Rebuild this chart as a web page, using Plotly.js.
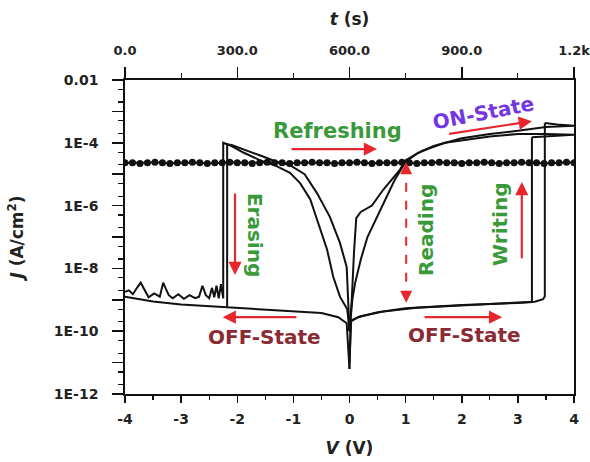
<!DOCTYPE html>
<html>
<head>
<meta charset="utf-8">
<script src="https://cdn.plot.ly/plotly-3.0.1.min.js"></script>
<style>html,body{margin:0;padding:0;background:#fff;}#chart{width:590px;height:462px;}</style>
</head>
<body>
<div id="chart"></div>
<script>
// ---- Data (V in volts, J in A/cm^2, t in s) ----
// Cycle 1: OFF sweep 0 -> +3.25 V, then set (jump to ON)
const offR1_V = [0, 0.02, 0.15, 0.5, 1.0, 2.0, 3.0, 3.25, 3.25];
const offR1_J = [6.3e-12, 2.0e-10, 2.8e-10, 4.0e-10, 5.4e-10, 6.8e-10, 7.9e-10, 8.5e-10, 1.5e-4];
// Cycle 2: OFF sweep 0 -> +3.48 V, then set
const offR2_V = [0, 0.03, 0.2, 0.6, 1.2, 2.2, 3.0, 3.3, 3.45, 3.48, 3.48];
const offR2_J = [1.0e-11, 2.2e-10, 3.0e-10, 4.2e-10, 5.6e-10, 7.0e-10, 8.1e-10, 8.7e-10, 1.05e-9, 1.3e-9, 4.3e-4];
// Cycle 1: ON state up to 4 V and back to 0
const onR1_V = [3.25, 3.5, 4.0, 3.5, 3.0, 2.5, 2.0, 1.7, 1.3, 1.0, 0.9, 0.6, 0.4, 0.2, 0.12, 0.08, 0.04, 0];
const onR1_J = [1.5e-4, 1.6e-4, 1.8e-4, 1.9e-4, 1.9e-4, 1.6e-4, 1.2e-4, 1.0e-4, 5.6e-5, 2.8e-5, 1.4e-5, 3.2e-6, 1.0e-6, 6.3e-7, 4.0e-7, 3.2e-8, 1.0e-9, 1.0e-10];
// Cycle 2: ON state up to 4 V and back to 0
const onR2_V = [3.48, 3.7, 4.0, 3.5, 3.0, 2.5, 2.0, 1.5, 1.2, 1.0, 0.8, 0.5, 0.32, 0.2, 0.1, 0.05, 0];
const onR2_J = [4.3e-4, 3.8e-4, 3.5e-4, 3.2e-4, 2.4e-4, 1.9e-4, 1.4e-4, 7.9e-5, 4.5e-5, 2.5e-5, 6.3e-6, 4.4e-7, 1.0e-7, 1.9e-8, 3.4e-9, 1.0e-9, 1.0e-10];
// Cycle 1: ON state 0 -> -2.25 V, then erase
const onL1_V = [0, -0.04, -0.17, -0.29, -0.4, -0.53, -0.7, -0.88, -1.06, -1.3, -1.6, -1.9, -2.1, -2.25, -2.25];
const onL1_J = [1.0e-10, 5.0e-10, 1.26e-9, 5.4e-9, 4.0e-8, 2.0e-7, 1.6e-6, 5.2e-6, 1.1e-5, 1.8e-5, 2.8e-5, 5.0e-5, 7.9e-5, 1.0e-4, 1.12e-9];
// Cycle 2: ON state 0 -> -2.18 V, then erase
const onL2_V = [0, -0.03, -0.05, -0.17, -0.35, -0.58, -0.8, -1.06, -1.3, -1.6, -1.9, -2.1, -2.18, -2.18];
const onL2_J = [1.0e-10, 2.0e-9, 1.1e-8, 6.5e-8, 4.4e-7, 2.5e-6, 1.0e-5, 1.95e-5, 2.5e-5, 4.0e-5, 6.3e-5, 8.5e-5, 8.9e-5, 6.0e-10];
// Noisy OFF trace after erase, -2.25 -> -4 V
const noise_V = [-2.25, -2.29, -2.33, -2.37, -2.41, -2.45, -2.5, -2.56, -2.62, -2.68, -2.75, -2.85, -2.95, -3.05, -3.15, -3.22, -3.28, -3.32, -3.38, -3.48, -3.58, -3.66, -3.72, -3.78, -3.86, -3.93, -4.0];
const noise_J = [1.12e-9, 3.16e-9, 1.12e-9, 2.8e-9, 1.2e-9, 2.4e-9, 1.12e-9, 1.4e-9, 2.8e-9, 1.26e-9, 1.12e-9, 1.4e-9, 1.07e-9, 1.5e-9, 1.12e-9, 1.4e-9, 2.4e-9, 3.5e-9, 1.26e-9, 1.6e-9, 1.2e-9, 2.2e-9, 3.5e-9, 2.5e-9, 1.5e-9, 2.0e-9, 1.8e-9];
// OFF return sweep -4 -> 0 V
const offL_V = [-4.0, -3.5, -3.0, -2.5, -2.0, -1.5, -1.0, -0.5, -0.2, -0.05, 0];
const offL_J = [1.26e-9, 8.9e-10, 7.1e-10, 6.3e-10, 5.6e-10, 5.0e-10, 4.5e-10, 3.8e-10, 2.8e-10, 1.8e-10, 6.3e-12];
// Retention (refreshing) at read voltage vs time
const ret_t = [0, 20, 40, 60, 80, 100, 120, 140, 160, 180, 200, 220, 240, 260, 280, 300, 320, 340, 360, 380, 400, 420, 440, 460, 480, 500, 520, 540, 560, 580, 600, 620, 640, 660, 680, 700, 720, 740, 760, 780, 800, 820, 840, 860, 880, 900, 920, 940, 960, 980, 1000, 1020, 1040, 1060, 1080, 1100, 1120, 1140, 1160, 1180, 1200];
const ret_J = [2.3e-5, 2.3e-5, 2.2e-5, 2.3e-5, 2.4e-5, 2.3e-5, 2.2e-5, 2.3e-5, 2.3e-5, 2.4e-5, 2.3e-5, 2.2e-5, 2.3e-5, 2.3e-5, 2.4e-5, 2.3e-5, 2.3e-5, 2.2e-5, 2.3e-5, 2.4e-5, 2.3e-5, 2.3e-5, 2.2e-5, 2.3e-5, 2.3e-5, 2.4e-5, 2.3e-5, 2.3e-5, 2.2e-5, 2.3e-5, 2.3e-5, 2.4e-5, 2.3e-5, 2.2e-5, 2.3e-5, 2.3e-5, 2.3e-5, 2.4e-5, 2.3e-5, 2.2e-5, 2.3e-5, 2.3e-5, 2.4e-5, 2.3e-5, 2.3e-5, 2.2e-5, 2.3e-5, 2.3e-5, 2.4e-5, 2.3e-5, 2.2e-5, 2.3e-5, 2.3e-5, 2.4e-5, 2.3e-5, 2.3e-5, 2.2e-5, 2.3e-5, 2.3e-5, 2.4e-5, 2.3e-5];
// Tick labels
const yTickVals = [1e-12, 1e-11, 1e-10, 1e-9, 1e-8, 1e-7, 1e-6, 1e-5, 1e-4, 1e-3, 1e-2];
const yTickText = ['1E-12', '', '1E-10', '', '1E-8', '', '1E-6', '', '1E-4', '', '0.01'];
const xTickVals = [-4, -3, -2, -1, 0, 1, 2, 3, 4];
const tTickVals = [0, 300, 600, 900, 1200];
const tTickText = ['0.0', '300.0', '600.0', '900.0', '1.2k'];

// ---- Styles ----
const LINE = {color: '#111', width: 2};
const RED = '#e8262e', GREEN = '#3a9a3a', PURPLE = '#7436e0', DARKRED = '#8a2a33';
const FONT = 'DejaVu Sans, Verdana, sans-serif';

function seg(x, y) { return {x: x, y: y, type: 'scatter', mode: 'lines', line: LINE, showlegend: false, hoverinfo: 'skip'}; }

const traces = [
  seg(offR1_V, offR1_J), seg(offR2_V, offR2_J),
  seg(onR1_V, onR1_J), seg(onR2_V, onR2_J),
  seg(onL1_V, onL1_J), seg(onL2_V, onL2_J),
  seg(noise_V, noise_J), seg(offL_V, offL_J),
  {x: ret_t, y: ret_J, xaxis: 'x2', yaxis: 'y', type: 'scatter', mode: 'lines+markers',
   line: {color: '#111', width: 2}, marker: {color: '#111', size: 7, symbol: 'circle'}, showlegend: false, hoverinfo: 'skip'}
];

const L = Math.log10;
function arrow(x0, y0, x1, y1) {
  return {x: x1, y: L(y1), ax: x0, ay: L(y0), xref: 'x', yref: 'y', axref: 'x', ayref: 'y',
          text: '', showarrow: true, arrowhead: 2, arrowsize: 1.2, arrowwidth: 2.2, arrowcolor: RED};
}
function label(text, x, y, color, size, angle) {
  return {x: x, y: L(y), xref: 'x', yref: 'y', text: text, showarrow: false, textangle: angle || 0,
          font: {family: FONT, size: size, color: color, weight: 'bold'}};
}

const annotations = [
  label('Refreshing', -0.22, 2.4e-4, GREEN, 21, 0),
  arrow(-1.06, 6.3e-5, 0.49, 6.3e-5),
  label('ON-State', 2.38, 8.9e-4, PURPLE, 20, -11),
  arrow(1.75, 1.9e-4, 3.25, 4.9e-4),
  label('Erasing', -1.68, 1.15e-7, GREEN, 20, 90),
  arrow(-2.04, 2.7e-6, -2.04, 6.2e-9),
  label('Reading', 1.36, 1.66e-7, GREEN, 20, -90),
  label('Writing', 2.68, 2.6e-7, GREEN, 20, -90),
  arrow(3.07, 1.9e-8, 3.07, 5.6e-6),
  label('OFF-State', -1.51, 6.6e-11, DARKRED, 20, 0),
  arrow(-0.92, 2.8e-10, -2.26, 2.8e-10),
  label('OFF-State', 2.04, 7.6e-11, DARKRED, 20, 0),
  arrow(1.31, 2.8e-10, 2.72, 2.8e-10),
  // reading arrowheads (dashed shaft drawn as a shape)
  {x: 1.01, y: L(2.4e-5), xref: 'x', yref: 'y', ax: 0, ay: 10, text: '', showarrow: true, arrowhead: 2, arrowsize: 1.2, arrowwidth: 2, arrowcolor: RED},
  {x: 1.01, y: L(8.0e-10), xref: 'x', yref: 'y', ax: 0, ay: -10, text: '', showarrow: true, arrowhead: 2, arrowsize: 1.2, arrowwidth: 2, arrowcolor: RED}
];

// dashed shaft of the "Reading" arrow, placed in paper fraction of the log range [-12, -2]
const shapes = [
  {type: 'line', xref: 'x', yref: 'paper', x0: 1.01, x1: 1.01, y0: (L(2.0e-5) + 12) / 10, y1: (L(1.0e-9) + 12) / 10,
   line: {color: RED, width: 2, dash: 'dash'}, layer: 'above'}
];

const tickFont = {family: FONT, size: 14, color: '#222', weight: 'bold'};
const topTickFont = {family: FONT, size: 13, color: '#222', weight: 'bold'};
const titleFont = {family: FONT, size: 17, color: '#222', weight: 'bold'};

const layout = {
  width: 590, height: 462,
  margin: {l: 125, r: 16, t: 80, b: 68},
  paper_bgcolor: '#fff', plot_bgcolor: '#fff',
  showlegend: false,
  xaxis: {
    range: [-4, 4], tickvals: xTickVals, ticktext: xTickVals.map(String),
    ticks: 'outside', ticklen: 7, tickwidth: 1.5, tickcolor: '#111',
    minor: {dtick: 0.5, ticks: 'outside', ticklen: 4, tickwidth: 1.2, tickcolor: '#111'},
    showline: true, linecolor: '#111', linewidth: 1.8, showgrid: false, zeroline: false,
    tickfont: tickFont, ticklabelstandoff: 4,
    title: {text: '<i>V</i> (V)', font: titleFont, standoff: 16}
  },
  xaxis2: {
    overlaying: 'x', side: 'top', anchor: 'y', range: [0, 1200],
    tickvals: tTickVals, ticktext: tTickText,
    ticks: 'outside', ticklen: 11, tickwidth: 1.5, tickcolor: '#111',
    minor: {dtick: 150, ticks: 'outside', ticklen: 5, tickwidth: 1.2, tickcolor: '#111'},
    showline: true, linecolor: '#111', linewidth: 1.8, showgrid: false, zeroline: false,
    tickfont: topTickFont, ticklabelstandoff: 7, ticklabeloverflow: 'allow',
    title: {text: '<i>t</i> (s)', font: titleFont, standoff: 13}
  },
  yaxis: {
    type: 'log', range: [-12, -2], tickvals: yTickVals, ticktext: yTickText,
    ticks: 'outside', ticklen: 11, tickwidth: 1.5, tickcolor: '#111',
    minor: {dtick: 'D2', ticks: 'outside', ticklen: 5, tickwidth: 1.2, tickcolor: '#111'},
    showline: true, mirror: true, linecolor: '#111', linewidth: 1.8, showgrid: false, zeroline: false,
    tickfont: tickFont, ticklabelstandoff: 11,
    title: {text: '<i>J</i> (A/cm<sup>2</sup>)', font: titleFont, standoff: 26}
  },
  annotations: annotations,
  shapes: shapes
};

Plotly.newPlot('chart', traces, layout, {staticPlot: true, displayModeBar: false});
</script>
</body>
</html>
